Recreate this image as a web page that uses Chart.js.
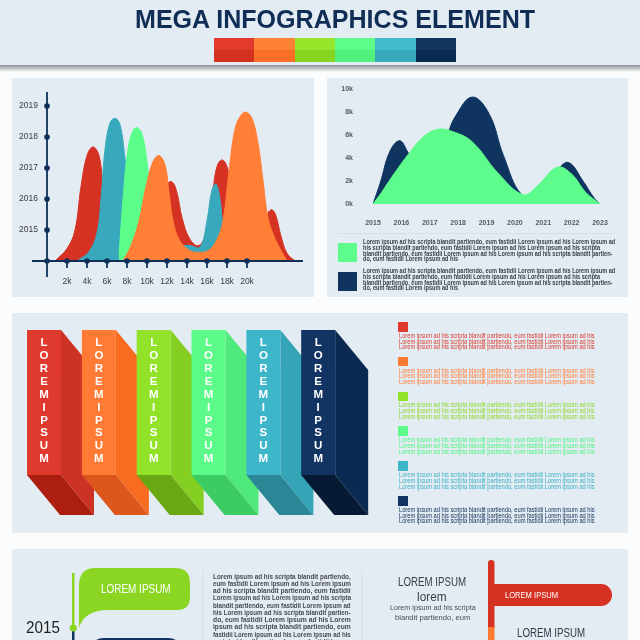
<!DOCTYPE html>
<html>
<head>
<meta charset="utf-8">
<script src="https://cdn.jsdelivr.net/npm/chart.js@4.4.1/dist/chart.umd.min.js"></script>
<style>
html, body { margin: 0; padding: 0; background: #fbfcfd; }
#page { position: relative; width: 640px; height: 640px; overflow: hidden; background: #fbfcfd;
        font-family: "Liberation Sans Narrow", "Liberation Sans", Arial, sans-serif; }
.box { position: absolute; background: #e4ecf3; }
.t { position: absolute; white-space: nowrap; line-height: 1; transform-origin: 0 50%; }
canvas, svg { position: absolute; }
</style>
</head>
<body>
<div id="page">
  <div class="box" style="left:0;top:0;width:640px;height:66px;"></div>
  <div style="position:absolute;left:0;top:65px;width:640px;height:7px;background:linear-gradient(#8d9398,rgba(200,205,210,0));"></div>
  <div class="box" style="left:12px;top:78px;width:302px;height:219px;"></div>
  <div class="box" style="left:327px;top:78px;width:301px;height:219px;"></div>
  <div class="box" style="left:12px;top:313px;width:616px;height:220px;"></div>
  <div class="box" style="left:12px;top:549px;width:616px;height:91px;"></div>
  <div style="position:absolute;left:338px;top:233px;width:277px;height:1px;background:#d6dee6;"></div>

  <canvas id="peaks" width="302" height="219" style="left:12px;top:78px;"></canvas>
  <canvas id="areas" width="301" height="160" style="left:327px;top:78px;"></canvas>
  <canvas id="columns" width="368" height="220" style="left:12px;top:313px;"></canvas>

  <svg width="640" height="640" style="left:0;top:0;">
    <line x1="203" y1="570" x2="203" y2="640" stroke="#d5dee6" stroke-width="1"/>
    <line x1="362" y1="570" x2="362" y2="640" stroke="#d5dee6" stroke-width="1"/>
    <rect x="72" y="573" width="2.5" height="56" fill="#8bd622"/>
    <rect x="72" y="630" width="2.5" height="10" fill="#0f3460"/>
    <circle cx="73.3" cy="628" r="3.6" fill="#8bd622"/>
    <path d="M95 568 H175 Q190 568 190 583 V597 Q190 610 177 610 H106 Q84 611 79 628 V584 Q80 568 95 568 Z" fill="#8bd622"/>
    <path d="M104 638 H168 Q180 638 180 650 V660 H92 V650 Q92 638 104 638 Z" fill="#0f3460"/>
    <rect x="488" y="560" width="6.5" height="70" rx="3" fill="#d63224"/>
    <rect x="488" y="627" width="6.5" height="20" fill="#ff7a33"/>
    <path d="M493 584 H601 A11 11 0 0 1 601 606 H493 Z" fill="#d63224"/>
  </svg>
</div>

<script>
// ---------- data ----------
const paletteNames = ['red', 'orange', 'lime', 'green', 'teal', 'navy'];

// left chart: overlapping peaks (x in thousands, y in years)
const peakXTicks = [2, 4, 6, 8, 10, 12, 14, 16, 18, 20];
const peakYTicks = [2015, 2016, 2017, 2018, 2019];

const redK = [0.8, 2, 2.8, 3.4, 4.0, 4.6, 5.2, 5.7, 6.5, 8, 10, 11.3, 11.9, 12.5, 13.0, 13.5, 14.3, 15.2, 16.0, 16.6, 17.0, 17.5, 18.0, 18.6, 19.5, 21.0, 21.6, 22.1, 22.5, 22.9, 23.4, 24.0, 24.8];
const redYear = [2014, 2014.4, 2015.0, 2016.4, 2017.4, 2017.68, 2017.4, 2016.3, 2015.4, 2015.0, 2015.2, 2015.9, 2016.45, 2016.55, 2016.2, 2015.4, 2014.7, 2014.5, 2015.0, 2016.3, 2017.05, 2017.26, 2017.05, 2016.2, 2015.5, 2015.0, 2015.2, 2015.55, 2015.65, 2015.45, 2014.8, 2014.25, 2014];

const tealK = [3, 4.2, 5.0, 5.4, 5.8, 6.3, 6.8, 7.3, 7.8, 8.3, 9, 10, 13.3, 14.3, 15.3, 16.0, 16.5, 16.9, 17.3, 17.7, 18.5, 20, 22];
const tealYear = [2014, 2014.3, 2014.9, 2016.0, 2017.6, 2018.45, 2018.6, 2018.4, 2017.3, 2015.8, 2014.9, 2014.6, 2014.5, 2014.5, 2014.45, 2015.3, 2016.3, 2016.48, 2016.0, 2015.0, 2014.5, 2014.2, 2014];

const greenK = [7.2, 7.6, 8.1, 8.6, 9.0, 9.5, 10.0, 10.5, 11.1, 12];
const greenYear = [2014.2, 2016.0, 2017.6, 2018.2, 2018.3, 2018.1, 2017.2, 2015.6, 2014.6, 2014];

const orangeK = [7.6, 8.4, 9.2, 9.9, 10.6, 11.2, 11.8, 12.2, 12.6, 13.2, 14.2, 15.2, 16.2, 17.0, 17.6, 18.2, 18.8, 19.4, 19.9, 20.5, 21.1, 21.6, 22.1, 22.7, 23.3, 24.0];
const orangeYear = [2014, 2014.5, 2015.3, 2016.4, 2017.2, 2017.4, 2017.1, 2016.2, 2015.3, 2014.7, 2014.35, 2014.28, 2014.35, 2014.7, 2015.3, 2016.9, 2018.25, 2018.7, 2018.8, 2018.6, 2017.8, 2016.6, 2015.4, 2014.8, 2014.4, 2014];

// right chart: two areas (x in years, y in thousands)
const areaYears = [2015, 2016, 2017, 2018, 2019, 2020, 2021, 2022, 2023];
const areaYTicks = [0, 2, 4, 6, 8, 10];
const navyYear = [2015, 2015.25, 2015.6, 2015.95, 2016.3, 2016.8, 2017.5, 2017.9, 2018.5, 2019.1, 2019.6, 2020.25, 2020.8, 2021.5, 2021.9, 2022.4, 2022.8, 2023];
const navyK = [0, 1.8, 4.6, 5.5, 4.3, 3.5, 5.5, 7.6, 9.3, 7.8, 4.2, 0.8, 1.2, 3.0, 3.6, 2.0, 0.5, 0];
const mintYear = [2015, 2015.3, 2015.65, 2016.3, 2016.8, 2017.3, 2017.8, 2018.5, 2019.4, 2020.3, 2020.8, 2021.5, 2022, 2022.5, 2023];
const mintK = [0, 1.0, 2.3, 4.5, 5.9, 6.5, 6.3, 5.4, 2.7, 0.8, 1.6, 3.2, 2.6, 1.0, 0];

// middle: six equal 3d columns
const columnLabels = ['LOREM IPSUM', 'LOREM IPSUM', 'LOREM IPSUM', 'LOREM IPSUM', 'LOREM IPSUM', 'LOREM IPSUM'];
const columnHeights = [1, 1, 1, 1, 1, 1];

// ---------- colours ----------
const navy = '#0f2f58';
const frontColors = ['#e03a2e', '#ff7b35', '#93e22a', '#5cfb89', '#3eb6ca', '#123462'];
const sideColors = ['#cd3324', '#f86c22', '#84cf22', '#50ea7c', '#36a4b7', '#0b2a51'];
const bottomColors = ['#ac1f10', '#dd561b', '#69a812', '#3dcb64', '#2a8796', '#061a33'];
const textColors = ['#d9392b', '#ff7a33', '#8ad924', '#4df47f', '#3ab0c4', '#0f2f58'];

Chart.defaults.font.family = '"Liberation Sans", Arial, sans-serif';

function pts(xs, ys) {
    return xs.map((x, i) => ({ x: x, y: ys[i] }));
}

function area(xs, ys, color) {
    return {
        data: pts(xs, ys),
        backgroundColor: color,
        borderColor: color,
        borderWidth: 1,
        fill: 'start',
        pointRadius: 0,
        tension: 0.4
    };
}

// axis with dots like the original
const axisPins = {
    id: 'axisPins',
    afterDatasetsDraw(chart) {
        const { ctx, chartArea: a, scales: { x, y } } = chart;
        const bx = x.getPixelForValue(0);
        const by = y.getPixelForValue(2014);
        ctx.save();
        ctx.strokeStyle = navy;
        ctx.fillStyle = navy;
        ctx.lineWidth = 1.8;
        ctx.beginPath();
        ctx.moveTo(bx, a.top);
        ctx.lineTo(bx, by + 16);
        ctx.moveTo(bx - 15, by);
        ctx.lineTo(a.right, by);
        ctx.stroke();
        const dot = (px, py) => { ctx.beginPath(); ctx.arc(px, py, 2.8, 0, Math.PI * 2); ctx.fill(); };
        peakYTicks.forEach(v => dot(bx, y.getPixelForValue(v)));
        dot(bx, by);
        peakXTicks.forEach(v => {
            const px = x.getPixelForValue(v);
            ctx.beginPath();
            ctx.moveTo(px, by);
            ctx.lineTo(px, by + 7);
            ctx.stroke();
            dot(px, by);
        });
        ctx.restore();
    }
};

new Chart(document.getElementById('peaks'), {
    type: 'line',
    data: {
        datasets: [
            area(orangeK, orangeYear, '#ff7f36'),
            area(greenK, greenYear, '#5bff8a'),
            area(tealK, tealYear, '#38a9bd'),
            area(redK, redYear, '#d63224')
        ]
    },
    options: {
        responsive: false,
        animation: false,
        events: [],
        layout: { padding: { top: 14, right: 11, left: 0, bottom: 0 } },
        plugins: { legend: { display: false }, tooltip: { enabled: false } },
        scales: {
            x: {
                type: 'linear', min: 0, max: 25.6,
                afterFit(s) { s.height = 36; },
                afterBuildTicks(s) { s.ticks = peakXTicks.map(v => ({ value: v })); },
                grid: { display: false, drawTicks: false },
                border: { display: false },
                ticks: { padding: 16, color: '#3c3c3c', font: { size: 8.5 }, maxRotation: 0, autoSkip: false, callback: v => v + 'k' }
            },
            y: {
                type: 'linear', min: 2014, max: 2019.45,
                afterFit(s) { s.width = 35; s.paddingTop = 4; s.paddingBottom = 4; },
                afterBuildTicks(s) { s.ticks = peakYTicks.map(v => ({ value: v })); },
                grid: { display: false, drawTicks: false },
                border: { display: false },
                ticks: { padding: 9, color: '#3c3c3c', font: { size: 8.5 }, callback: v => String(v) }
            }
        }
    },
    plugins: [axisPins]
});

new Chart(document.getElementById('areas'), {
    type: 'line',
    data: {
        datasets: [
            area(mintYear, mintK, '#5dfc8c'),
            area(navyYear, navyK, '#0f3460')
        ]
    },
    options: {
        responsive: false,
        animation: false,
        events: [],
        layout: { padding: { top: 11, right: 28, left: 0, bottom: 0 } },
        plugins: { legend: { display: false }, tooltip: { enabled: false } },
        scales: {
            x: {
                type: 'linear', min: 2015, max: 2023,
                afterFit(s) { s.height = 34; },
                afterBuildTicks(s) { s.ticks = areaYears.map(v => ({ value: v })); },
                grid: { display: false, drawTicks: false },
                border: { display: false },
                ticks: { padding: 15, color: '#555b61', font: { size: 7, weight: 'bold' }, maxRotation: 0, autoSkip: false, callback: v => String(v) }
            },
            y: {
                type: 'linear', min: 0, max: 10,
                afterFit(s) { s.width = 46; s.paddingTop = 4; s.paddingBottom = 4; },
                afterBuildTicks(s) { s.ticks = areaYTicks.map(v => ({ value: v })); },
                grid: { display: false, drawTicks: false },
                border: { display: false },
                ticks: { padding: 20, color: '#555b61', font: { size: 7, weight: 'bold' }, callback: v => v + 'k' }
            }
        }
    }
});

// 3d sides drawn behind the fronts, letters on top
const extrude = {
    id: 'extrude',
    beforeDatasetsDraw(chart) {
        const ctx = chart.ctx;
        const dx = 33, dy = 40;
        chart.getDatasetMeta(0).data.forEach((bar, i) => {
            const l = bar.x - bar.width / 2, r = bar.x + bar.width / 2;
            const t = bar.y, b = bar.base;
            ctx.fillStyle = sideColors[i];
            ctx.beginPath();
            ctx.moveTo(r, t); ctx.lineTo(r + dx, t + dy); ctx.lineTo(r + dx, b + dy); ctx.lineTo(r, b);
            ctx.closePath(); ctx.fill();
            ctx.fillStyle = bottomColors[i];
            ctx.beginPath();
            ctx.moveTo(l, b); ctx.lineTo(r, b); ctx.lineTo(r + dx, b + dy); ctx.lineTo(l + dx, b + dy);
            ctx.closePath(); ctx.fill();
        });
    },
    afterDatasetsDraw(chart) {
        const ctx = chart.ctx;
        ctx.save();
        ctx.fillStyle = '#ffffff';
        ctx.font = 'bold 11.5px "Liberation Sans", Arial, sans-serif';
        ctx.textAlign = 'center';
        ctx.textBaseline = 'middle';
        chart.getDatasetMeta(0).data.forEach((bar, i) => {
            columnLabels[i].replace(' ', '').split('').forEach((ch, j) => {
                ctx.fillText(ch, bar.x, bar.y + 13 + j * 12.9);
            });
        });
        ctx.restore();
    }
};

new Chart(document.getElementById('columns'), {
    type: 'bar',
    data: {
        labels: paletteNames,
        datasets: [{
            data: columnHeights,
            backgroundColor: frontColors,
            borderWidth: 0,
            barPercentage: 0.62,
            categoryPercentage: 1
        }]
    },
    options: {
        responsive: false,
        animation: false,
        events: [],
        layout: { padding: { top: 17, right: 34.4, left: 4.6, bottom: 58 } },
        plugins: { legend: { display: false }, tooltip: { enabled: false } },
        scales: {
            x: { display: false },
            y: { display: false, min: 0, max: 1 }
        }
    },
    plugins: [extrude]
});

// ---------- text and decoration ----------
const page = document.getElementById('page');

function addBox(x, y, w, h, bg) {
    const el = document.createElement('div');
    el.style.cssText = `position:absolute;left:${x}px;top:${y}px;width:${w}px;height:${h}px;background:${bg};`;
    page.appendChild(el);
    return el;
}

function addText(str, x, y, size, color, fitW, weight) {
    const el = document.createElement('span');
    el.className = 't';
    el.textContent = str;
    el.style.left = x + 'px';
    el.style.top = (y - size / 2) + 'px';
    el.style.fontSize = size + 'px';
    el.style.color = color;
    el.style.fontWeight = weight || 'normal';
    page.appendChild(el);
    if (fitW) el.style.transform = 'scaleX(' + (fitW / el.offsetWidth) + ')';
    return el;
}

function addLines(lines, x, y0, step, size, color, fitW, weight) {
    const els = lines.map((s, i) => addText(s, x, y0 + i * step, size, color, 0, weight));
    const w = Math.max(...els.map(e => e.offsetWidth));
    els.forEach(e => { e.style.transform = 'scaleX(' + (fitW / w) + ')'; });
}

// header
addText('MEGA INFOGRAPHICS ELEMENT', 135, 19, 26, '#0f2d55', 400, 'bold');
const stripTop = ['#e23b2d', '#ff8136', '#97e62b', '#5efd8b', '#42bccd', '#12355f'];
const stripBottom = ['#d3301f', '#fb6f26', '#87d420', '#52f07d', '#38aabc', '#0b2a52'];
stripTop.forEach((c, i) => {
    addBox(214 + i * 40.3, 38, 40.6, 24, `linear-gradient(${c} 50%, ${stripBottom[i]} 50%)`);
});

// legend for the right chart
const legendText = [
    'Lorem ipsum ad his scripta blandit partiendo, eum fastidii Lorem ipsum ad his Lorem ipsum ad',
    'his scripta blandit partiendo, eum fastidii Lorem ipsum ad his Lorem ipsum ad his scripta',
    'blandit partiendo, eum fastidii Lorem ipsum ad his Lorem ipsum ad his scripta blandit partien-',
    'do, eum fastidii Lorem ipsum ad his'
];
addBox(338, 243, 19, 19, '#5dfc8c');
addBox(338, 272, 19, 19, '#0f3460');
addLines(legendText, 363, 242, 5.9, 6.6, '#3b4148', 252, 'bold');
addLines(legendText, 363, 271, 5.9, 6.6, '#3b4148', 252, 'bold');

// colored text column
const columnNote = 'Lorem ipsum ad his scripta blandit partiendo, eum fastidii Lorem ipsum ad his';
textColors.forEach((c, i) => {
    const top = 322 + i * 34.8;
    addBox(398, top, 9.5, 9.5, frontColors[i]);
    addLines([columnNote, columnNote, columnNote], 399, top + 14, 5.8, 6.3, c, 196, 'normal');
});

// bottom panel
addText('LOREM IPSUM', 101, 589, 12.5, '#ffffff', 70);
addText('2015', 26, 627, 17, '#1f1f1f', 34);
const paragraph = [
    'Lorem ipsum ad his scripta blandit partiendo,',
    'eum fastidii Lorem ipsum ad his Lorem ipsum',
    'ad his scripta blandit partiendo, eum fastidii',
    'Lorem ipsum ad his Lorem ipsum ad his scripta',
    'blandit partiendo, eum fastidii Lorem ipsum ad',
    'his Lorem ipsum ad his scripta blandit partien-',
    'do, eum fastidii Lorem ipsum ad his Lorem',
    'ipsum ad his scripta blandit partiendo, eum',
    'fastidii Lorem ipsum ad his Lorem ipsum ad his',
    'scripta blandit partiendo, eum fastidii Lorem'
];
paragraph.forEach((s, i) => addText(s, 213, 576 + i * 7.25, 7, '#474a4e', 138, 'bold'));

addText('LOREM IPSUM', 398, 581, 13, '#3a3d42', 68);
addText('lorem', 417, 596, 13, '#3a3d42', 30);
addText('Lorem ipsum ad his scripta', 390, 608, 7.5, '#4a4d52', 86);
addText('blandit partiendo, eum', 395, 618, 7.5, '#4a4d52', 75);
addText('LOREM IPSUM', 505, 595, 9, '#ffffff', 53);
addText('LOREM IPSUM', 517, 632, 13, '#2e3a47', 68);
</script>
</body>
</html>
